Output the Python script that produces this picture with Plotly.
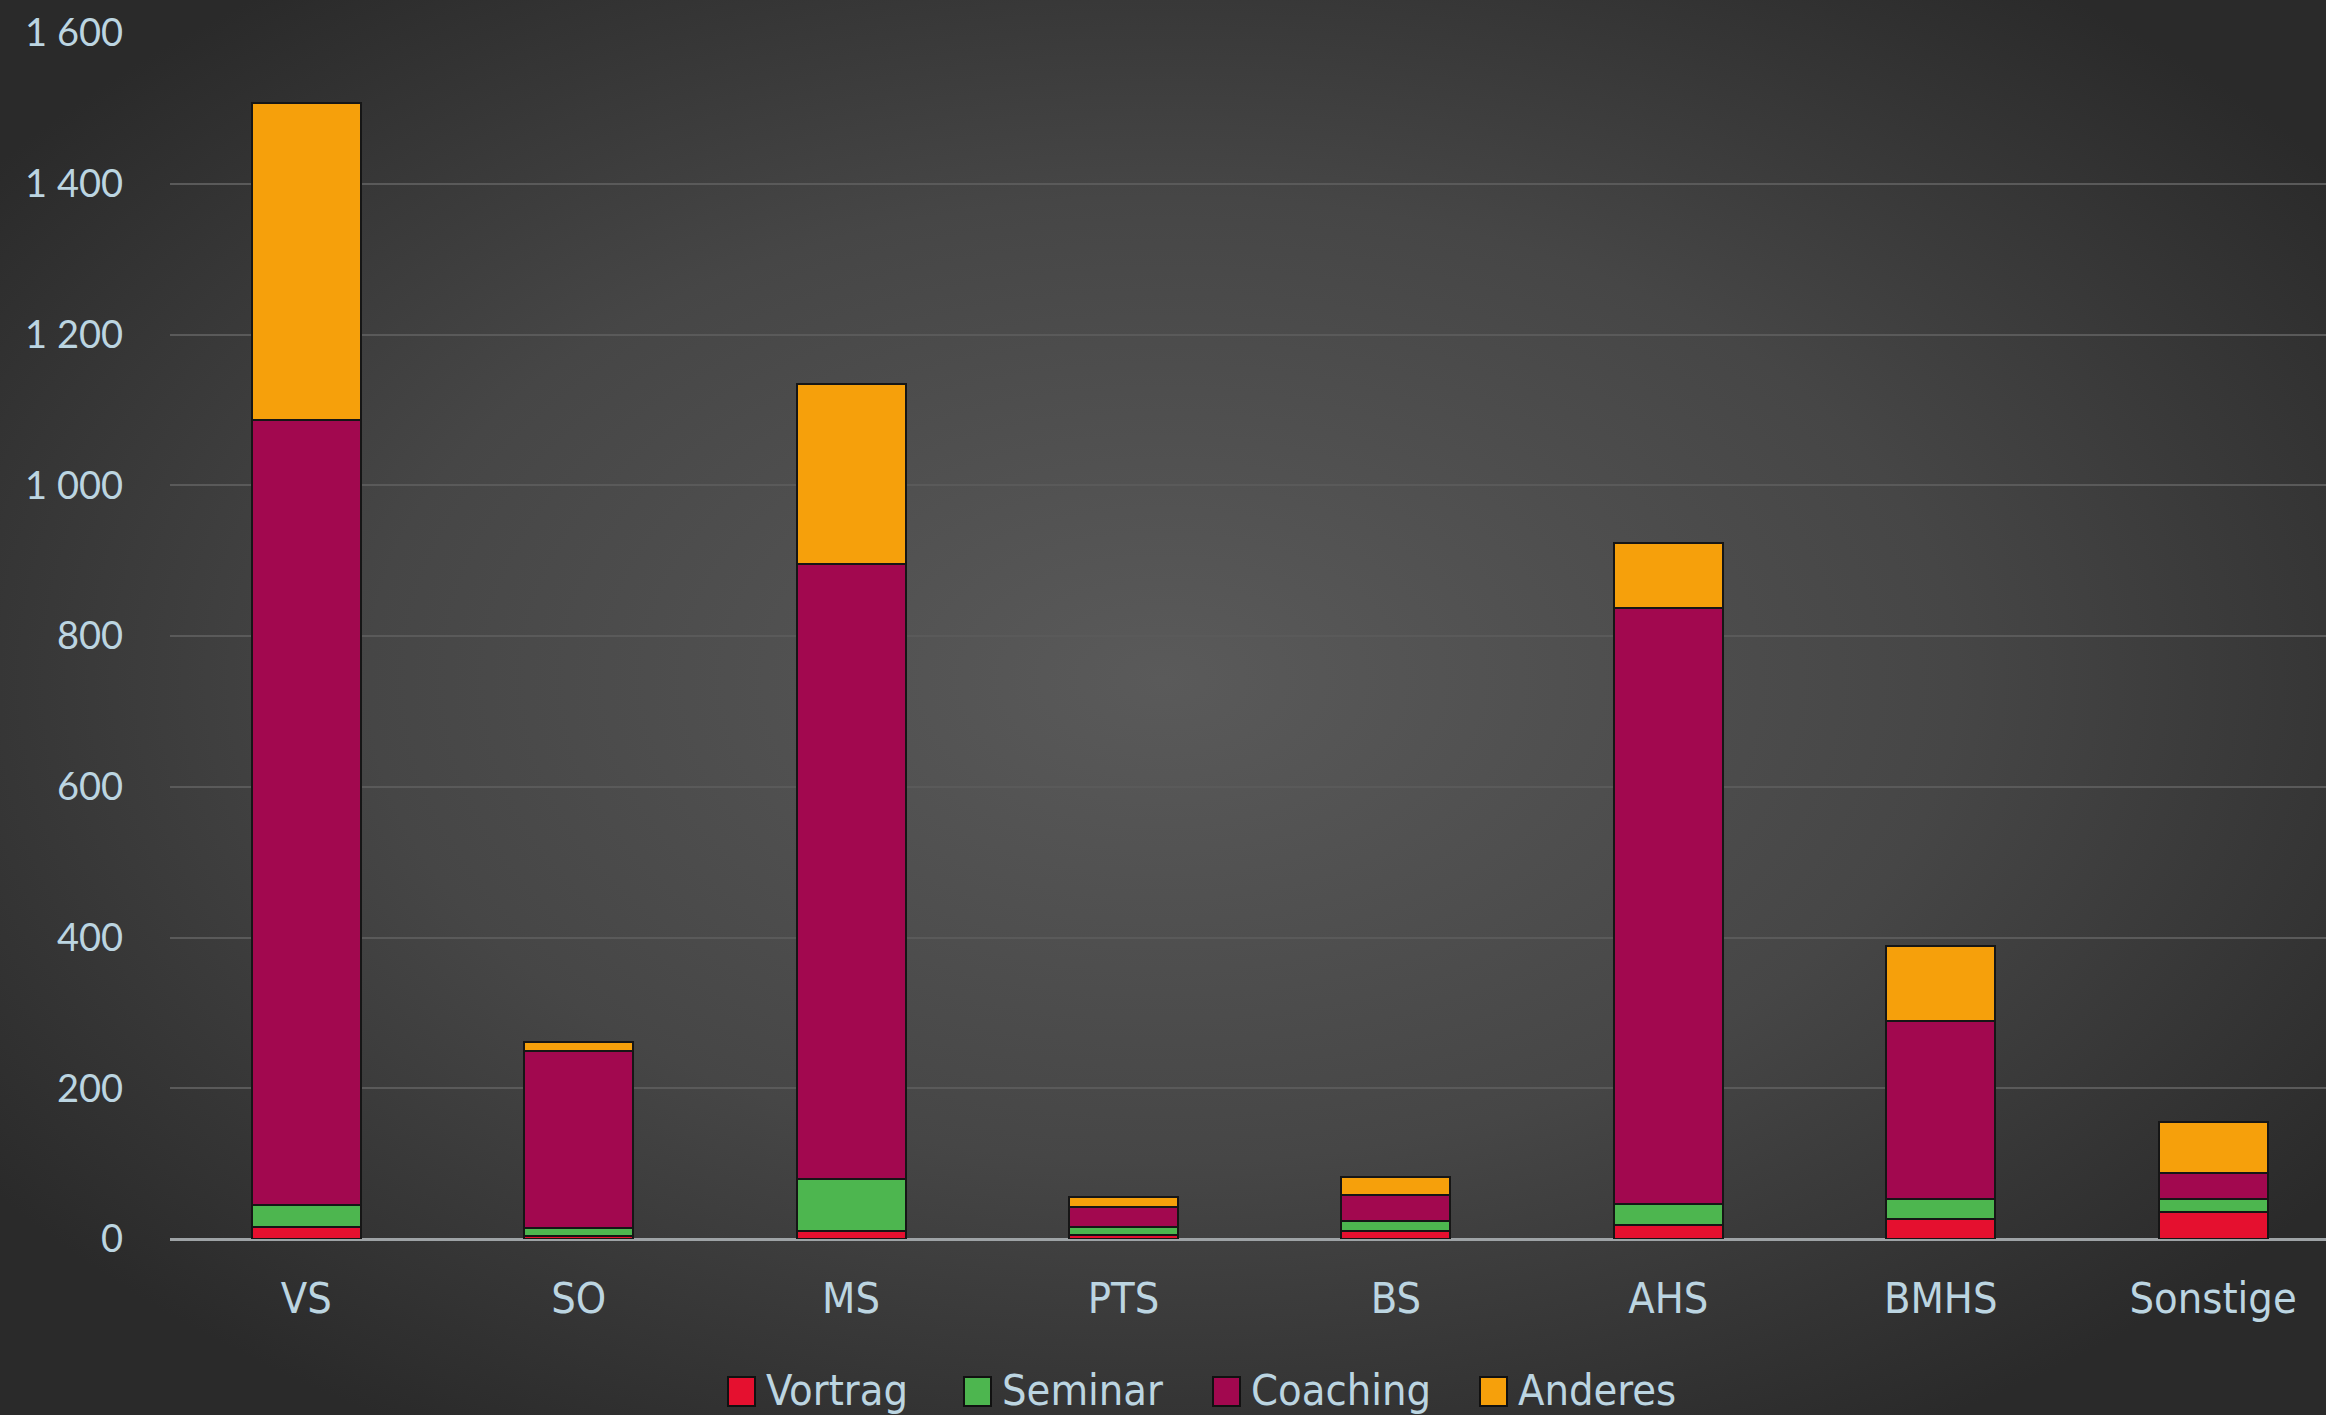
import base64
import plotly.graph_objects as go

categories = ["VS", "SO", "MS", "PTS", "BS", "AHS", "BMHS", "Sonstige"]
vortrag = [16, 4, 11, 5, 11, 19, 27, 36]
seminar = [29, 11, 69, 11, 13, 28, 26, 17]
coaching = [1042, 234, 815, 27, 35, 790, 236, 35]
anderes = [420, 12, 239, 13, 23, 86, 100, 67]
y_ticks = [0, 200, 400, 600, 800, 1000, 1200, 1400, 1600]
series_names = ["Vortrag", "Seminar", "Coaching", "Anderes"]

colors = ["#e5102f", "#4db64f", "#a2084f", "#f6a00b"]
series_values = [vortrag, seminar, coaching, anderes]

W, H = 2326, 1415
L, R, T, B = 170, 0, 33, 176
pw, ph = W - L - R, H - T - B

svg = f'''<svg xmlns="http://www.w3.org/2000/svg" width="{W}" height="{H}" viewBox="0 0 {W} {H}">
<defs><radialGradient id="g" cx="50%" cy="48%" r="62%">
<stop offset="0%" stop-color="#5a5a5a"/><stop offset="55%" stop-color="#464646"/><stop offset="100%" stop-color="#2a2a2a"/>
</radialGradient></defs>
<rect width="{W}" height="{H}" fill="url(#g)"/></svg>'''
src = "data:image/svg+xml;base64," + base64.b64encode(svg.encode()).decode()

cond = "DejaVu Sans Condensed, Liberation Sans Narrow, sans-serif"
txt = "#bcd5e1"

fig = go.Figure()
for name, vals, col in zip(series_names, series_values, colors):
    fig.add_trace(go.Bar(
        x=categories, y=vals, name=name, width=0.4, showlegend=False,
        marker=dict(color=col, line=dict(color="#161616", width=2)),
    ))

# manual legend (pixel layout -> paper coords)
def px(xp):
    return (xp - L) / pw

def py(yp):
    return (T + ph - yp) / ph

swatch_x = [728, 964, 1213, 1480]
shapes, annotations = [], []
for name, col, sx in zip(series_names, colors, swatch_x):
    shapes.append(dict(type="rect", xref="paper", yref="paper",
                       x0=px(sx), x1=px(sx + 27), y0=py(1406), y1=py(1377),
                       fillcolor=col, line=dict(color="#111111", width=2), layer="above"))
    annotations.append(dict(text=name, xref="paper", yref="paper", x=px(sx + 36), y=py(1390),
                            xanchor="left", yanchor="middle", showarrow=False,
                            font=dict(family=cond, size=43, color=txt)))

fig.update_layout(
    width=W, height=H, autosize=False, barmode="stack",
    margin=dict(l=L, r=R, t=T, b=B),
    paper_bgcolor="#3a3a3a", plot_bgcolor="rgba(0,0,0,0)",
    separators=", ",
    images=[dict(source=src, xref="paper", yref="paper",
                 x=-L / pw, y=1 + T / ph, sizex=W / pw, sizey=H / ph,
                 xanchor="left", yanchor="top", sizing="stretch", layer="below")],
    showlegend=False,
    shapes=shapes, annotations=annotations,
    xaxis=dict(range=[-0.5, (W - 305.6) / 272.5], showgrid=False, zeroline=False,
               showline=False, ticks="", ticklabelstandoff=30,
               tickfont=dict(family=cond, size=43, color=txt)),
    yaxis=dict(range=[0, 1600], tickvals=y_ticks, showgrid=True, gridcolor="#5a5a5a", gridwidth=2,
               zeroline=True, zerolinecolor="#9ea3a6", zerolinewidth=3, showline=False,
               ticks="", ticklabelstandoff=46, tickformat=",d",
               tickfont=dict(family="Lato, Open Sans, sans-serif", size=38, color=txt)),
)

post = ("document.body.style.margin='0';document.body.style.overflow='hidden';"
        "document.documentElement.style.overflow='hidden';"
        "Plotly.relayout('{plot_id}', {width: 2326, height: 1415});")
fig.write_html("out.html", config={"displayModeBar": False, "responsive": False}, post_script=post)
